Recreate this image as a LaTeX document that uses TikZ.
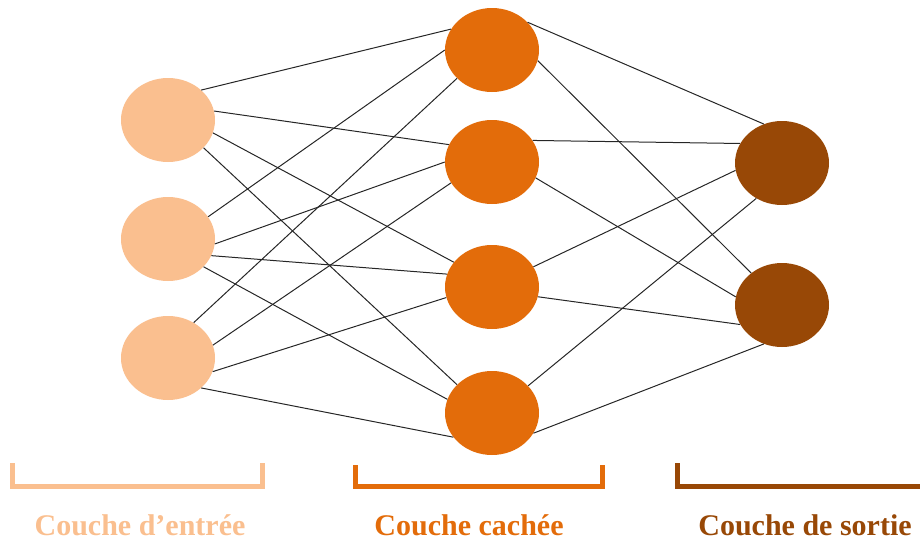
\documentclass[tikz,border=0pt]{standalone}
\usepackage{fontspec}
\setmainfont{Liberation Serif}
\usetikzlibrary{shapes}
\definecolor{entree}{HTML}{FABF8F}
\definecolor{cachee}{HTML}{E36C0A}
\definecolor{sortie}{HTML}{984806}

\begin{document}
\begin{tikzpicture}[x=1pt,y=1pt,
  neurone/.style={ellipse,minimum width=94pt,minimum height=84pt,inner sep=0pt},
  lien/.style={line width=1pt,black!85},
  crochet/.style={line width=5pt,line join=miter},
  titre/.style={font=\fontsize{30}{36}\selectfont\bfseries,anchor=base}]
\useasboundingbox (0,0) rectangle (920,-541);
% couche d'entree
\node(i1) [neurone,fill=entree] at (168,-120) {};
\node(i2) [neurone,fill=entree,node distance=119pt,below of=i1] {};
\node(i3) [neurone,fill=entree,node distance=119pt,below of=i2] {};
% couche cachee
\node(h1) [neurone,fill=cachee] at (492,-50) {};
\node(h2) [neurone,fill=cachee] at (492,-162) {};
\node(h3) [neurone,fill=cachee,node distance=125pt,below of=h2] {};
\node(h4) [neurone,fill=cachee,node distance=126pt,below of=h3] {};
% couche de sortie
\node(o1) [neurone,fill=sortie] at (782,-163) {};
\node(o2) [neurone,fill=sortie,node distance=142pt,below of=o1] {};
% liens entree -> cachee
\draw[lien] (i1.42) -- (h1.153);
\draw[lien] (i1.11) -- (h2.158);
\draw[lien] (i1.-16) -- (h3.147);
\draw[lien] (i1.-38) -- (h4.141);
\draw[lien] (i2.29) -- (h1.180);
\draw[lien] (i2.-6) -- (h2.180);
\draw[lien] (i2.-21) -- (h3.164);
\draw[lien] (i2.-38) -- (h4.163);
\draw[lien] (i3.54) -- (h1.219);
\draw[lien] (i3.16) -- (h2.207);
\draw[lien] (i3.-17) -- (h3.193);
\draw[lien] (i3.-42) -- (h4.212);
% liens cachee -> sortie
\draw[lien] (h1.38) -- (o1.115);
\draw[lien] (h1.-13) -- (o2.134);
\draw[lien] (h2.28) -- (o1.155);
\draw[lien] (h2.-20) -- (o2.170);
\draw[lien] (h3.26) -- (o1.189);
\draw[lien] (h3.-12) -- (o2.205);
\draw[lien] (h4.37) -- (o1.234);
\draw[lien] (h4.-26) -- (o2.245);
% crochets et titres
\draw[crochet,entree] (12.5,-463) -- (12.5,-486) -- (262,-486) -- (262,-463);
\draw[crochet,cachee] (355,-465) -- (355,-486) -- (602,-486) -- (602,-465);
\draw[crochet,sortie] (677,-463) -- (677,-486) -- (920,-486);
\node(t1) [titre,text=entree] at (140,-535) {Couche d’entrée};
\node(t2) [titre,text=cachee] at (469,-535) {Couche cachée};
\node(t3) [titre,text=sortie] at (805,-535) {Couche de sortie};
\end{tikzpicture}
\end{document}
